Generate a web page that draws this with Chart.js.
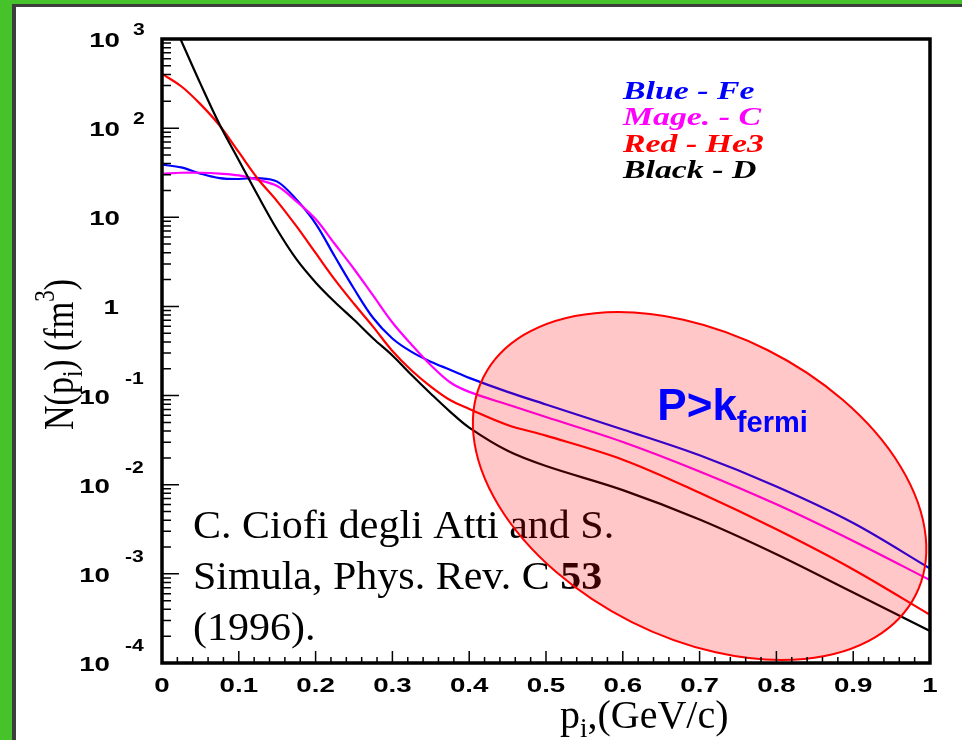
<!DOCTYPE html>
<html>
<head>
<meta charset="utf-8">
<script src="https://cdn.jsdelivr.net/npm/chart.js@4"></script>
<style>
  html, body { margin: 0; padding: 0; background: #fff; }
  canvas { display: block; }
</style>
</head>
<body>
<canvas id="chart" width="962" height="740"></canvas>
<script>
// momentum grid (GeV/c)
const momentum = [0, 0.025, 0.05, 0.075, 0.1, 0.125, 0.15, 0.175, 0.2, 0.225, 0.25, 0.275, 0.3, 0.325, 0.35, 0.375, 0.4, 0.45, 0.5, 0.6, 0.7, 0.8, 0.9, 1.0];
// N(p) in fm^3
const ironFe = [38.9, 36.3, 30.9, 27.5, 26.9, 27.5, 25.1, 15.8, 8.51, 3.63, 1.58, 0.741, 0.437, 0.309, 0.240, 0.195, 0.158, 0.110, 0.0794, 0.0417, 0.0214, 0.00955, 0.00372, 0.00115];
const carbonC = [30.9, 31.6, 31.6, 30.9, 29.5, 26.3, 22.4, 15.1, 9.55, 5.01, 2.63, 1.32, 0.661, 0.372, 0.219, 0.141, 0.110, 0.0794, 0.0575, 0.0302, 0.0141, 0.00603, 0.00234, 0.000851];
const helium3 = [407, 295, 186, 107, 53.7, 26.9, 15.1, 7.94, 3.98, 2.0, 1.07, 0.589, 0.316, 0.191, 0.126, 0.0891, 0.0708, 0.0468, 0.0355, 0.0191, 0.00813, 0.00316, 0.00112, 0.000347];
const deuteron = [2818, 955, 316, 110, 43.7, 17.4, 7.24, 3.39, 1.86, 1.12, 0.708, 0.437, 0.282, 0.170, 0.105, 0.0661, 0.0437, 0.024, 0.0162, 0.0087, 0.00407, 0.00166, 0.000617, 0.000229];

const xTicks = [0, 0.1, 0.2, 0.3, 0.4, 0.5, 0.6, 0.7, 0.8, 0.9, 1];
const xTickLabels = ["0", "0.1", "0.2", "0.3", "0.4", "0.5", "0.6", "0.7", "0.8", "0.9", "1"];
const yExponents = [3, 2, 1, 0, -1, -2, -3, -4];
const legendLines = [["Blue - Fe", "#0000ff"], ["Mage. - C", "#ff00ff"], ["Red - He3", "#ff0000"], ["Black - D", "#000000"]];

function pts(arr) {
    return momentum.map((p, i) => ({ x: p, y: arr[i] }));
}

// draws text squeezed/stretched horizontally (the original plot was stretched)
function sText(ctx, txt, x, y, sx, align) {
    ctx.save();
    let w = ctx.measureText(txt).width * sx;
    let x0 = x;
    if (align === "right") x0 = x - w;
    if (align === "center") x0 = x - w / 2;
    ctx.translate(x0, y);
    ctx.scale(sx, 1);
    ctx.textAlign = "left";
    ctx.fillText(txt, 0, 0);
    ctx.restore();
    return w;
}

const decor = {
    id: "decor",
    beforeDraw(chart) {
        const ctx = chart.ctx;
        ctx.save();
        ctx.fillStyle = "#fff";
        ctx.fillRect(0, 0, chart.width, chart.height);
        ctx.fillStyle = "#46c32a";
        ctx.fillRect(0, 0, chart.width, 4);
        ctx.fillRect(0, 0, 12, chart.height);
        ctx.fillStyle = "#3d3d3d";
        ctx.fillRect(12, 4, chart.width, 3);
        ctx.fillRect(12, 4, 4, chart.height);
        ctx.restore();
    },
    afterDatasetsDraw(chart) {
        const ctx = chart.ctx;
        const a = chart.chartArea;
        const xs = chart.scales.x, ys = chart.scales.y;
        ctx.save();
        ctx.textBaseline = "alphabetic";

        // citation (under the ellipse)
        ctx.fillStyle = "#000";
        ctx.font = "40px 'Liberation Serif'";
        sText(ctx, "C. Ciofi degli Atti and S.", a.left + 31, 538, 1.05, "left");
        let w = sText(ctx, "Simula, Phys. Rev. C ", a.left + 31, 589, 1.05, "left");
        ctx.font = "bold 40px 'Liberation Serif'";
        sText(ctx, "53", a.left + 31 + w, 589, 1.05, "left");
        ctx.font = "40px 'Liberation Serif'";
        sText(ctx, "(1996).", a.left + 31, 640, 1.05, "left");

        // high momentum region
        const cx = xs.getPixelForValue(0.70), cy = ys.getPixelForValue(0.00966);
        ctx.beginPath();
        ctx.ellipse(cx, cy, 242, 152, 26.7 * Math.PI / 180, 0, 2 * Math.PI);
        ctx.fillStyle = "rgba(255,0,0,0.22)";
        ctx.fill();
        ctx.strokeStyle = "#ff0000";
        ctx.lineWidth = 2;
        ctx.stroke();

        ctx.fillStyle = "#0000ff";
        ctx.font = "bold 44px 'Liberation Sans'";
        const tx = xs.getPixelForValue(0.645), ty = 420;
        ctx.fillText("P>k", tx, ty);
        const pw = ctx.measureText("P>k").width;
        ctx.font = "bold 29px 'Liberation Sans'";
        ctx.fillText("fermi", tx + pw, ty + 12);

        // legend text
        ctx.font = "bold italic 26px 'Liberation Serif'";
        legendLines.forEach((l, i) => {
            ctx.fillStyle = l[1];
            sText(ctx, l[0], 623, 99 + i * 26.3, 1.3, "left");
        });

        // frame
        ctx.strokeStyle = "#000";
        ctx.lineWidth = 3.5;
        ctx.strokeRect(a.left, a.top, a.right - a.left, a.bottom - a.top);

        // inward ticks
        ctx.lineWidth = 1.5;
        ctx.beginPath();
        for (let e = -4; e <= 3; e++) {
            for (let k = 1; k <= 9; k++) {
                const v = k * Math.pow(10, e);
                if (v > 1000) break;
                const py = ys.getPixelForValue(v);
                ctx.moveTo(a.left, py);
                ctx.lineTo(a.left + (k === 1 ? 17 : 9), py);
            }
        }
        for (let i = 0; i <= 50; i++) {
            const px = xs.getPixelForValue(i * 0.02);
            ctx.moveTo(px, a.bottom);
            ctx.lineTo(px, a.bottom - (i % 5 === 0 ? 12 : 6));
        }
        ctx.stroke();

        // tick labels
        ctx.fillStyle = "#000";
        ctx.font = "bold 21px 'Liberation Sans'";
        xTicks.forEach((v, i) => {
            sText(ctx, xTickLabels[i], xs.getPixelForValue(v), 692, 1.32, "center");
        });
        yExponents.forEach(e => {
            const py = ys.getPixelForValue(Math.pow(10, e));
            ctx.font = "bold 21px 'Liberation Sans'";
            if (e === 0) {
                sText(ctx, "1", a.left - 43, py + 8, 1.32, "right");
            } else if (e === 1) {
                sText(ctx, "10", a.left - 42, py + 8, 1.32, "right");
            } else if (e > 1) {
                sText(ctx, "10", a.left - 42, py + 8, 1.32, "right");
                ctx.font = "bold 16px 'Liberation Sans'";
                sText(ctx, String(e), a.left - 29, py - 4, 1.32, "left");
            } else {
                sText(ctx, "10", a.left - 52, py + 8, 1.32, "right");
                ctx.font = "bold 16px 'Liberation Sans'";
                sText(ctx, String(e), a.left - 37, py - 12, 1.32, "left");
            }
        });

        // x title
        ctx.font = "40px 'Liberation Serif'";
        let x = 560;
        ctx.fillText("p", x, 728);
        x += ctx.measureText("p").width;
        ctx.font = "27px 'Liberation Serif'";
        ctx.fillText("i", x, 737);
        x += ctx.measureText("i").width;
        ctx.font = "40px 'Liberation Serif'";
        ctx.fillText(",(GeV/c)", x, 728);

        // y title (rotated)
        ctx.save();
        ctx.translate(73, 430);
        ctx.rotate(-Math.PI / 2);
        ctx.scale(1, 1.25);
        const parts = [["N(p", 34, 0], ["i", 23, 7], [") (fm", 34, 0], ["3", 23, -15], [")", 34, 0]];
        let yx = 0;
        parts.forEach(p => {
            ctx.font = p[1] + "px 'Liberation Serif'";
            ctx.fillText(p[0], yx, p[2]);
            yx += ctx.measureText(p[0]).width;
        });
        ctx.restore();

        ctx.restore();
    }
};

const lineStyle = (label, data, color) => ({
    label: label,
    data: pts(data),
    borderColor: color,
    borderWidth: 2.2,
    pointRadius: 0,
    fill: false,
    tension: 0.35
});

new Chart(document.getElementById("chart"), {
    type: "line",
    data: {
        datasets: [
            lineStyle("Black - D", deuteron, "#000000"),
            lineStyle("Red - He3", helium3, "#ff0000"),
            lineStyle("Mage. - C", carbonC, "#ff00ff"),
            lineStyle("Blue - Fe", ironFe, "#0000ff")
        ]
    },
    options: {
        responsive: false,
        animation: false,
        layout: { padding: { left: 162, top: 39, right: 32, bottom: 77 } },
        scales: {
            x: { type: "linear", min: 0, max: 1, display: false },
            y: { type: "logarithmic", min: 1e-4, max: 1e3, display: false }
        },
        plugins: { legend: { display: false }, tooltip: { enabled: false } }
    },
    plugins: [decor]
});
</script>
</body>
</html>
